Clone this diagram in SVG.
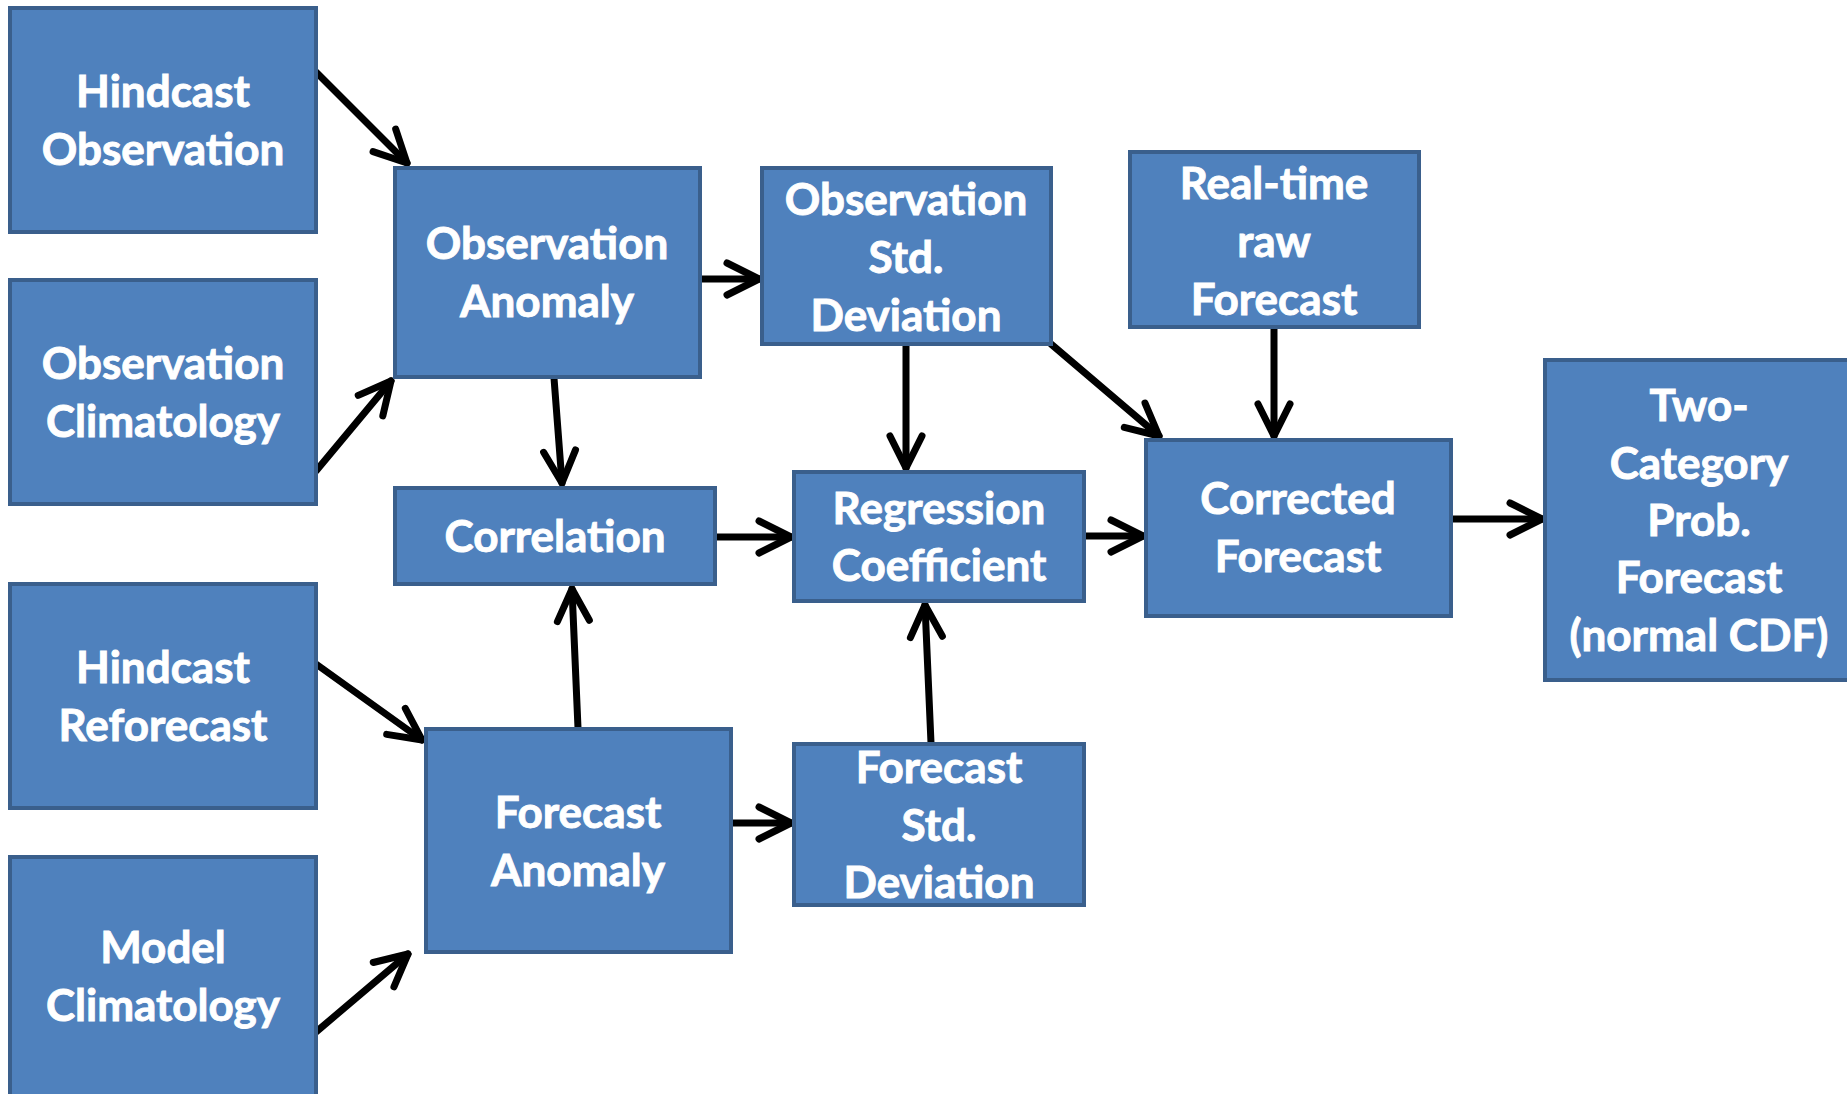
<svg xmlns="http://www.w3.org/2000/svg" width="1847" height="1094" viewBox="0 0 1847 1094">
<style>
.box{fill:#4F81BD;stroke:#3A5F8C;stroke-width:4}
.lbl{fill:#fff;stroke:#fff;stroke-width:0.9;font-family:Lato,"Open Sans","Liberation Sans",sans-serif;font-weight:bold;font-size:44px;text-anchor:middle}
.con{stroke:#000;stroke-width:7;fill:none;stroke-linecap:round}
</style>
<defs>
<marker id="ah" markerUnits="userSpaceOnUse" markerWidth="60" markerHeight="60" refX="0" refY="0" orient="auto" style="overflow:visible">
<path d="M -32 -16 L 0 0 L -32 16" fill="none" stroke="#000" stroke-width="7" stroke-linecap="round" stroke-linejoin="round"/>
</marker>
</defs>
<rect width="1847" height="1094" fill="#fff"/>
<g id="connectors">
<line class="con" x1="316" y1="72" x2="407" y2="163" marker-end="url(#ah)"/>
<line class="con" x1="316" y1="471" x2="391" y2="381" marker-end="url(#ah)"/>
<line class="con" x1="316" y1="664" x2="422" y2="740" marker-end="url(#ah)"/>
<line class="con" x1="316" y1="1032" x2="408" y2="954" marker-end="url(#ah)"/>
<line class="con" x1="700" y1="279" x2="759" y2="279" marker-end="url(#ah)"/>
<line class="con" x1="554" y1="378" x2="562" y2="483" marker-end="url(#ah)"/>
<line class="con" x1="906" y1="344" x2="906" y2="468" marker-end="url(#ah)"/>
<line class="con" x1="1051" y1="344" x2="1159" y2="436" marker-end="url(#ah)"/>
<line class="con" x1="1274" y1="327" x2="1274" y2="436" marker-end="url(#ah)"/>
<line class="con" x1="715" y1="537" x2="791" y2="537" marker-end="url(#ah)"/>
<line class="con" x1="1084" y1="536" x2="1143" y2="536" marker-end="url(#ah)"/>
<line class="con" x1="1451" y1="519" x2="1542" y2="519" marker-end="url(#ah)"/>
<line class="con" x1="578" y1="728" x2="572" y2="589" marker-end="url(#ah)"/>
<line class="con" x1="731" y1="823" x2="791" y2="823" marker-end="url(#ah)"/>
<line class="con" x1="931" y1="743" x2="925" y2="605" marker-end="url(#ah)"/>
</g>
<g id="hindcast-observation"><rect class="box" x="10" y="8" width="306" height="224"/><text class="lbl" x="163" y="107">Hindcast</text><text class="lbl" x="163" y="165">Observation</text></g>
<g id="observation-climatology"><rect class="box" x="10" y="280" width="306" height="224"/><text class="lbl" x="163" y="379">Observation</text><text class="lbl" x="163" y="437">Climatology</text></g>
<g id="hindcast-reforecast"><rect class="box" x="10" y="584" width="306" height="224"/><text class="lbl" x="163" y="683">Hindcast</text><text class="lbl" x="163" y="741">Reforecast</text></g>
<g id="model-climatology"><rect class="box" x="10" y="857" width="306" height="250"/><text class="lbl" x="163" y="963">Model</text><text class="lbl" x="163" y="1021">Climatology</text></g>
<g id="observation-anomaly"><rect class="box" x="395" y="168" width="305" height="209"/><text class="lbl" x="547" y="259">Observation</text><text class="lbl" x="547" y="317">Anomaly</text></g>
<g id="observation-std"><rect class="box" x="762" y="168" width="289" height="176"/><text class="lbl" x="906" y="215">Observation</text><text class="lbl" x="906" y="273">Std.</text><text class="lbl" x="906" y="331">Deviation</text></g>
<g id="realtime-forecast"><rect class="box" x="1130" y="152" width="289" height="175"/><text class="lbl" x="1274" y="199">Real-time</text><text class="lbl" x="1274" y="257">raw</text><text class="lbl" x="1274" y="315">Forecast</text></g>
<g id="correlation"><rect class="box" x="395" y="488" width="320" height="96"/><text class="lbl" x="555" y="552">Correlation</text></g>
<g id="regression-coefficient"><rect class="box" x="794" y="472" width="290" height="129"/><text class="lbl" x="939" y="524">Regression</text><text class="lbl" x="939" y="581">Coefficient</text></g>
<g id="corrected-forecast"><rect class="box" x="1146" y="440" width="305" height="176"/><text class="lbl" x="1298" y="514">Corrected</text><text class="lbl" x="1298" y="572">Forecast</text></g>
<g id="two-category"><rect class="box" x="1545" y="360" width="310" height="320"/><text class="lbl" x="1699" y="421">Two-</text><text class="lbl" x="1699" y="479">Category</text><text class="lbl" x="1699" y="536">Prob.</text><text class="lbl" x="1699" y="593">Forecast</text><text class="lbl" x="1699" y="651">(normal CDF)</text></g>
<g id="forecast-anomaly"><rect class="box" x="426" y="729" width="305" height="223"/><text class="lbl" x="578" y="828">Forecast</text><text class="lbl" x="578" y="886">Anomaly</text></g>
<g id="forecast-std"><rect class="box" x="794" y="744" width="290" height="161"/><text class="lbl" x="939" y="783">Forecast</text><text class="lbl" x="939" y="841">Std.</text><text class="lbl" x="939" y="898">Deviation</text></g>
</svg>
